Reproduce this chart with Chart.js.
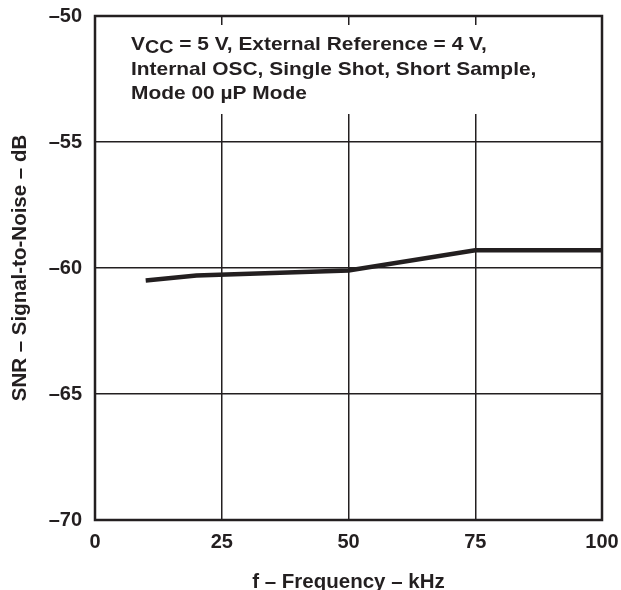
<!DOCTYPE html>
<html>
<head>
<meta charset="utf-8">
<script src="https://cdn.jsdelivr.net/npm/chart.js@4"></script>
<style>
    html, body { margin: 0; padding: 0; background: #fff; }
    #wrap { width: 621px; height: 590px; }
</style>
</head>
<body>
<div id="wrap"><canvas id="chart" width="621" height="590"></canvas></div>
<script>
// 数据
const frequency = [10, 20, 50, 75, 100];
const snr = [-60.5, -60.3, -60.1, -59.3, -59.3];
const xTicks = [0, 25, 50, 75, 100];
const yTicks = [-70, -65, -60, -55, -50];
const noteLines = ['= 5 V, External Reference = 4 V,', 'Internal OSC, Single Shot, Short Sample,', 'Mode 00 \u00b5P Mode'];

const ink = '#231f20';
const fontFamily = '"Liberation Sans", Arial, sans-serif';

// 白底注释框 + 外框
const notePlugin = {
    id: 'note',
    beforeDatasetsDraw(chart) {
        const ctx = chart.ctx;
        const a = chart.chartArea;
        ctx.save();
        ctx.fillStyle = '#fff';
        ctx.fillRect(a.left + 2, a.top + 9, 450, 89);
        ctx.restore();
    },
    afterDatasetsDraw(chart) {
        const ctx = chart.ctx;
        const a = chart.chartArea;
        ctx.save();
        ctx.strokeStyle = ink;
        ctx.lineWidth = 2.5;
        ctx.strokeRect(a.left, a.top, a.right - a.left, a.bottom - a.top);

        // 文字略宽，横向拉伸
        const sx = 1.13;
        ctx.translate(a.left + 36, 0);
        ctx.scale(sx, 1);
        ctx.fillStyle = ink;
        ctx.font = 'bold 18.5px ' + fontFamily;
        ctx.textBaseline = 'alphabetic';
        ctx.fillText('V', 0, 50);
        const vw = ctx.measureText('V').width;
        ctx.font = 'bold 17.5px ' + fontFamily;
        ctx.fillText('CC', vw, 53);
        const cw = ctx.measureText('CC').width;
        ctx.font = 'bold 18.5px ' + fontFamily;
        const sp = ctx.measureText(' ').width;
        ctx.fillText(noteLines[0], vw + cw + sp, 50);
        ctx.fillText(noteLines[1], 0, 75);
        ctx.fillText(noteLines[2], 0, 99);
        ctx.restore();
    }
};

new Chart(document.getElementById('chart'), {
    type: 'scatter',
    data: {
        datasets: [{
            data: frequency.map((f, i) => ({ x: f, y: snr[i] })),
            showLine: true,
            borderColor: ink,
            borderWidth: 4.5,
            pointRadius: 0,
            tension: 0
        }]
    },
    options: {
        responsive: false,
        animation: false,
        layout: { padding: { top: 16, right: 19, left: 0, bottom: 0 } },
        plugins: { legend: { display: false }, tooltip: { enabled: false } },
        scales: {
            x: {
                type: 'linear',
                min: 0,
                max: 100,
                afterFit(scale) {
                    scale.height = 70;
                    scale.paddingLeft = 0;
                    scale.paddingRight = 0;
                },
                afterBuildTicks(scale) { scale.ticks = xTicks.map(v => ({ value: v })); },
                grid: { color: ink, lineWidth: 1.5, drawTicks: false },
                border: { display: false },
                ticks: {
                    color: ink,
                    padding: 10,
                    maxRotation: 0,
                    font: { family: fontFamily, size: 20, weight: 'bold' }
                },
                title: {
                    display: true,
                    text: 'f \u2013 Frequency \u2013 kHz',
                    color: ink,
                    padding: { top: 0, bottom: -5 },
                    font: { family: fontFamily, size: 20.5, weight: 'bold' }
                }
            },
            y: {
                type: 'linear',
                min: -70,
                max: -50,
                afterFit(scale) {
                    scale.width = 95;
                    scale.paddingTop = 0;
                    scale.paddingBottom = 0;
                },
                afterBuildTicks(scale) { scale.ticks = yTicks.map(v => ({ value: v })); },
                grid: { color: ink, lineWidth: 1.5, drawTicks: false },
                border: { display: false },
                ticks: {
                    color: ink,
                    padding: 13,
                    callback: v => String(v).replace('-', '\u2013'),
                    font: { family: fontFamily, size: 20, weight: 'bold' }
                },
                title: {
                    display: true,
                    text: 'SNR \u2013 Signal-to-Noise \u2013 dB',
                    color: ink,
                    padding: { top: 8, bottom: 0 },
                    font: { family: fontFamily, size: 20.5, weight: 'bold' }
                }
            }
        }
    },
    plugins: [notePlugin]
});
</script>
</body>
</html>
